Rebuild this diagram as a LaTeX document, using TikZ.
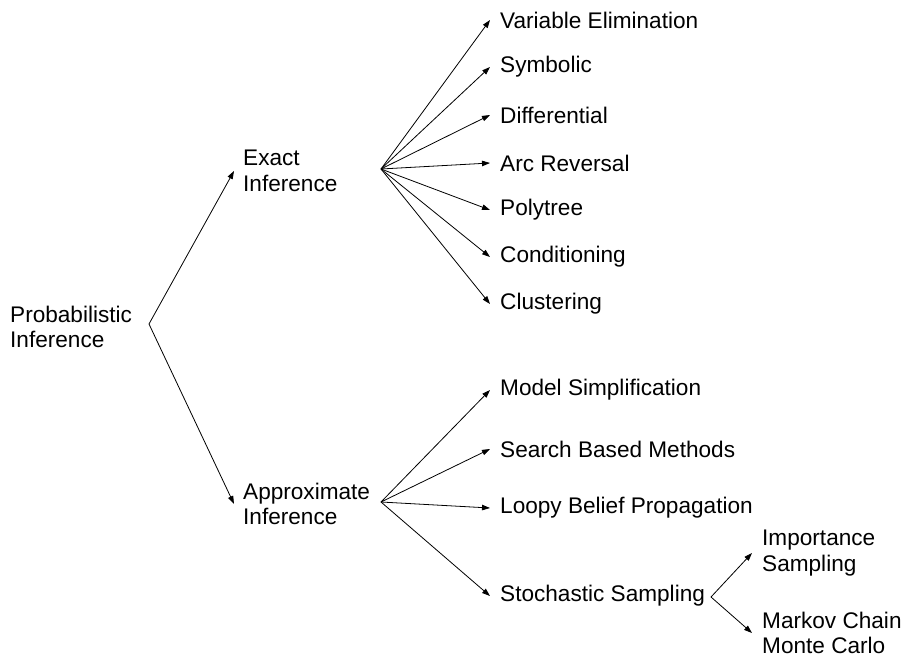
\documentclass[tikz,border=0pt]{standalone}
\usepackage{fontspec}
\setmainfont{Liberation Sans}
\usetikzlibrary{arrows.meta}
\tikzset{
  lbl/.style={anchor=west, align=left, inner ysep=0pt, inner xsep=10pt},
  conn/.style={line width=0.8pt, -{Triangle[length=8pt,width=5.5pt]}},
}
\begin{document}
\begin{tikzpicture}[x=1pt,y=-1pt,font=\fontsize{22.6}{25.5}\selectfont]
\useasboundingbox[fill=white] (0,0) rectangle (903,657);
% root
\node[lbl, inner xsep=0pt] (root) at (10,327) {Probabilistic\\Inference};
\coordinate (p0) at (149,324);
\node[lbl, inner xsep=9pt] (exact) at (234,171) {Exact\\Inference};
\node[lbl, inner xsep=9pt] (approx) at (234,504) {Approximate\\Inference};
\draw[conn] (p0) -- (exact.west);
\draw[conn] (p0) -- (approx.west);
% exact children
\coordinate (e0) at (381,169);
\node[lbl] (ve) at (490,20) {Variable Elimination};
\node[lbl] (sy) at (490,67) {Symbolic};
\node[lbl] (di) at (490,115) {Differential};
\node[lbl] (ar) at (490,163) {Arc Reversal};
\node[lbl] (po) at (490,210) {Polytree};
\node[lbl] (co) at (490,257) {Conditioning};
\node[lbl] (cl) at (490,304) {Clustering};
\foreach \n in {ve,sy,di,ar,po,co,cl} \draw[conn] (e0) -- (\n.west);
% approximate children
\coordinate (a0) at (381,502);
\node[lbl] (ms) at (490,390) {Model Simplification};
\node[lbl] (sb) at (490,449) {Search Based Methods};
\node[lbl] (lb) at (490,508) {Loopy Belief Propagation};
\node[lbl] (ss) at (490,596) {Stochastic Sampling};
\foreach \n in {ms,sb,lb,ss} \draw[conn] (a0) -- (\n.west);
% stochastic children
\coordinate (s0) at (711,597);
\node[lbl] (is) at (752,553) {Importance\\Sampling};
\node[lbl] (mc) at (752,633) {Markov Chain\\Monte Carlo};
\draw[conn] (s0) -- (is.west);
\draw[conn] (s0) -- (mc.west);
\end{tikzpicture}
\end{document}
